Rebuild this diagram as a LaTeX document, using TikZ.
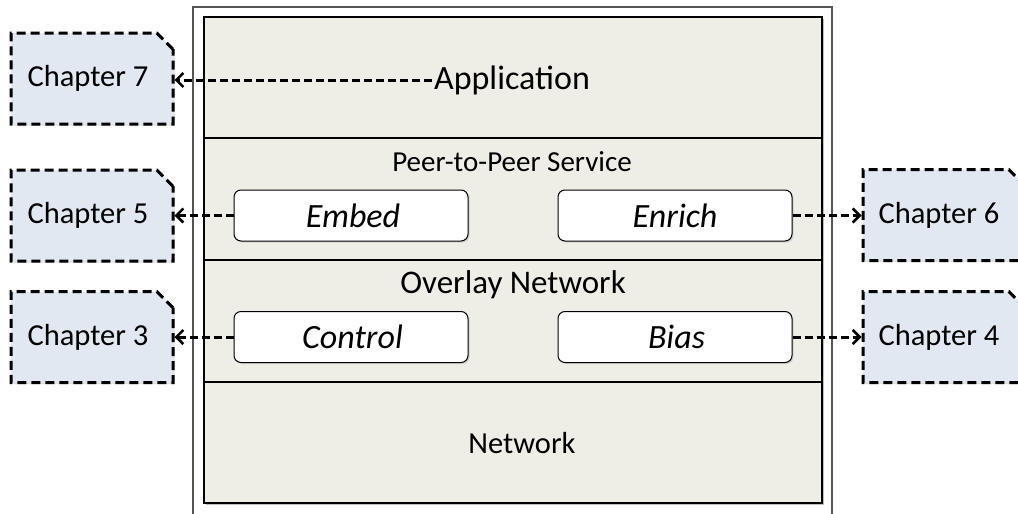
\documentclass[tikz,border=0pt]{standalone}
\usepackage{fontspec}
\setmainfont{Carlito}
\usetikzlibrary{arrows.meta,shapes.misc,shadows}
\definecolor{layerfill}{HTML}{EFEEE6}
\definecolor{chapfill}{HTML}{E1E8F2}
\definecolor{framegray}{HTML}{555555}
\tikzset{
  txt/.style={inner sep=0pt},
  chapbox/.style={chamfered rectangle, chamfered rectangle corners=north east,
    chamfered rectangle xsep=16pt, draw=black, dash pattern=on 9pt off 5pt,
    line width=3pt, fill=chapfill, minimum width=162pt, minimum height=91pt,
    inner sep=0pt, font=\fontsize{30.5}{33}\selectfont,
    drop shadow={shadow xshift=1.5pt, shadow yshift=-1.5pt, opacity=0.25}},
  modbox/.style={rounded corners=7pt, draw=black, line width=1pt, fill=white,
    minimum width=234pt, minimum height=51pt, inner sep=0pt,
    font=\fontsize{34}{36}\selectfont\itshape,
    drop shadow={shadow xshift=1.5pt, shadow yshift=-1.5pt, opacity=0.25}},
  link/.style={line width=3pt, dash pattern=on 8pt off 4pt,
    -{Straight Barb[length=7pt,width=14pt,line width=2.6pt]}}
}
\begin{document}
\begin{tikzpicture}[x=1pt,y=-1pt]
\useasboundingbox (0,0) rectangle (1018,514);
% outer frame
\draw[framegray, line width=1.6pt] (193,520) -- (193,7) -- (832,7) -- (832,520);
% inner stack
\fill[black!25] (206,19) rectangle (824,505);
\draw[line width=1.6pt, fill=layerfill] (204,17) rectangle (822,503);
\draw[line width=1.6pt] (204,138) -- (822,138);
\draw[line width=1.6pt] (204,260) -- (822,260);
\draw[line width=1.6pt] (204,382) -- (822,382);
% layer labels
\node[txt, font=\fontsize{34}{36}\selectfont] (app) at (512,80) {Application};
\node[txt, font=\fontsize{29}{31}\selectfont] (p2p) at (512,162) {Peer-to-Peer Service};
\node[txt, font=\fontsize{33}{36}\selectfont] (ovl) at (513,285) {Overlay Network};
\node[txt, font=\fontsize{30.5}{33}\selectfont] (net) at (522,443) {Network};
% modules
\node[modbox] (embed) at (351,215.5) {\hspace*{4pt}Embed};
\node[modbox] (enrich) at (675,215.5) {Enrich};
\node[modbox] (control) at (351,337) {\hspace*{3pt}Control};
\node[modbox] (bias) at (675,337) {\hspace*{3pt}Bias};
% chapters
\node[chapbox] (c7) at (92,78.5) {\hspace*{-8pt}Chapter 7};
\node[chapbox] (c5) at (92,215.5) {\hspace*{-8pt}Chapter 5};
\node[chapbox] (c3) at (92,337) {\hspace*{-8pt}Chapter 3};
\node[chapbox] (c6) at (944,215) {\hspace*{-10pt}Chapter 6};
\node[chapbox] (c4) at (944,337) {\hspace*{-10pt}Chapter 4};
% links
\draw[link] ([xshift=-2pt]app.west) -- (c7.east |- app.west);
\draw[link] (embed.west) -- (c5.east |- embed.west);
\draw[link] (control.west) -- (c3.east |- control.west);
\draw[link] (enrich.east) -- (c6.west |- enrich.east);
\draw[link] (bias.east) -- (c4.west |- bias.east);
\end{tikzpicture}
\end{document}
